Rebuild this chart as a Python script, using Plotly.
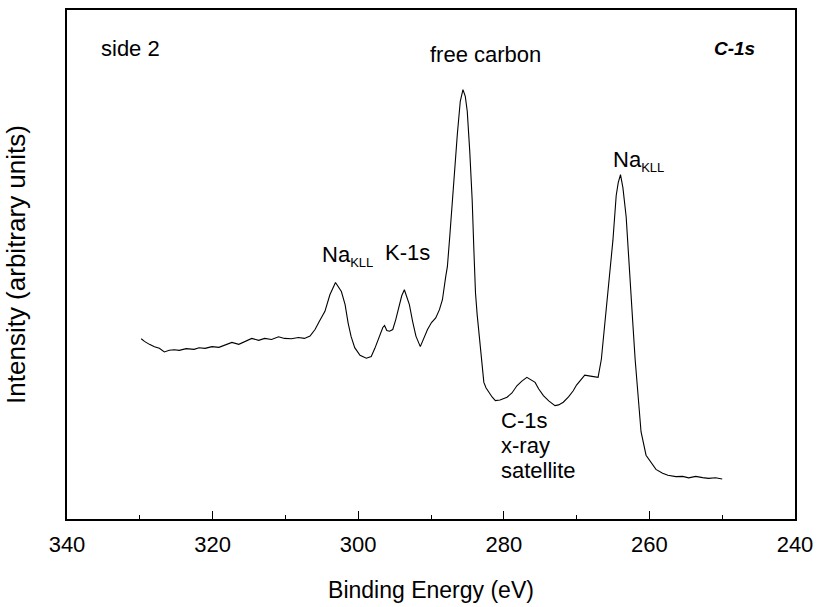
import plotly.graph_objects as go

# Binding energy (eV) and intensity (arbitrary units)
pix_x = [141.7,145,150,155,160,165,170,175,180,187,195,200,206,213,220,226,233,240,246,253,260,266,273,280,286,293,300,306,311.7,
         316.7,321,326.7,331.7,337.3,343.3,347,350,353,356.7,362,368.3,373.3,377,381.7,385,386.7,389,391.7,395,398,401.7,404,406.7,
         409,411.7,415,418.3,422.7,426,430,434,438.3,442,445,448.3,450,452.5,455,457.5,460,463,465.7,468,470,472.5,475,476.7,478.3,
         480,481.7,484,486.7,489,491.7,495,498.3,503,510,515,520,525,530,534,538.3,542,546.7,552,558.3,562,566.7,572,576.7,580,583.3,
         586,588.3,594,601.7,605,607.5,610,613.3,616.7,620,622,624.3,626.7,630,633,636.5,639,641.7,645,650,656.7,660,666.7,672,680,
         687,693,700,707,713,720,726.7]
pix_y = [339.3,342,345,347.5,349,352.7,351,350.5,351,349.3,350,348.5,349,347.3,348,346,343,345,342,339,341,339,340,337.3,339,339.3,338,
         339,336.7,330,322,311.7,295,282.7,291.7,305,323.3,337,348.3,356,359,357.3,349,336.7,328,326,331,331.7,330,320,306.7,296,290,
         296,305,322,336.7,347.3,340,330,323,318.3,310,300,276.7,266.7,235,200,165,133,100,88.3,95,110,150,200,250,293,
         315,333.3,360,383.3,389,393.3,398,401.7,401,398.3,394,386.7,382,378.3,381,383.3,390,396.7,402,406.7,406,403.3,398,391.7,386,381.7,
         378,376,377,378.3,360,335,305,275,240,195,182,174,187,216.7,270,320,360,392,433,456.7,466.7,471,475,477,478.3,
         478,479.5,478,479.3,480,479.5,480.7]

X0_PX, PX_PER_EV, Y0_PX, Y_SPAN = 67.0, 7.33, 521.0, 513.0
energy = [round(340 - (p - X0_PX) / PX_PER_EV, 2) for p in pix_x]
intensity = [round((Y0_PX - p) / Y_SPAN * 100, 2) for p in pix_y]

x_ticks = [340, 320, 300, 280, 260, 240]
FONT = "Arial, Liberation Sans, Helvetica, sans-serif"
SUB = "<sub><span style='font-size:13px'>KLL</span></sub>"

fig = go.Figure()
fig.add_trace(go.Scatter(x=energy, y=intensity, mode="lines",
                         line=dict(color="black", width=1.1), showlegend=False))

def note(text, x, y, xanchor="center", size=22, yanchor="middle"):
    fig.add_annotation(text=text, x=x, y=y, xref="paper", yref="paper",
                       xanchor=xanchor, yanchor=yanchor, showarrow=False,
                       font=dict(family=FONT, size=size, color="black"))

def px2paper(px, py):
    return (px - 67) / 733, (521 - py) / 513

note("side 2", *px2paper(99, 47), xanchor="left")
note("free carbon", *px2paper(488, 53))
note("<b><i>C-1s</i></b>", *px2paper(739, 47), size=19)
note("Na" + SUB, *px2paper(349, 256))
note("K-1s", *px2paper(410, 252))
note("Na" + SUB, *px2paper(642, 160))
note("C-1s", *px2paper(502, 422), xanchor="left")
note("x-ray", *px2paper(502, 447), xanchor="left")
note("satellite", *px2paper(502, 472), xanchor="left")

fig.update_layout(
    width=821, height=607,
    margin=dict(l=67, r=21, t=8, b=86),
    paper_bgcolor="white", plot_bgcolor="white",
    font=dict(family=FONT, size=22, color="black"),
    xaxis=dict(range=[340, 240], tickvals=x_ticks, ticks="inside", ticklen=8, tickwidth=1.3,
               tickcolor="black", showline=True, linecolor="black", linewidth=1.6, mirror=True,
               showgrid=False, zeroline=False, ticklabelstandoff=5,
               minor=dict(dtick=10, ticks="inside", ticklen=4, tickwidth=1.3, tickcolor="black", tick0=330),
               tickfont=dict(size=22), title=dict(text="Binding Energy (eV)", font=dict(size=23), standoff=26)),
    yaxis=dict(range=[0, 100], showticklabels=False, ticks="", showline=True, linecolor="black",
               linewidth=1.6, mirror=True, showgrid=False, zeroline=False,
               title=dict(text="Intensity (arbitrary units)", font=dict(size=26), standoff=32)),
)

fig.write_html("out.html")
